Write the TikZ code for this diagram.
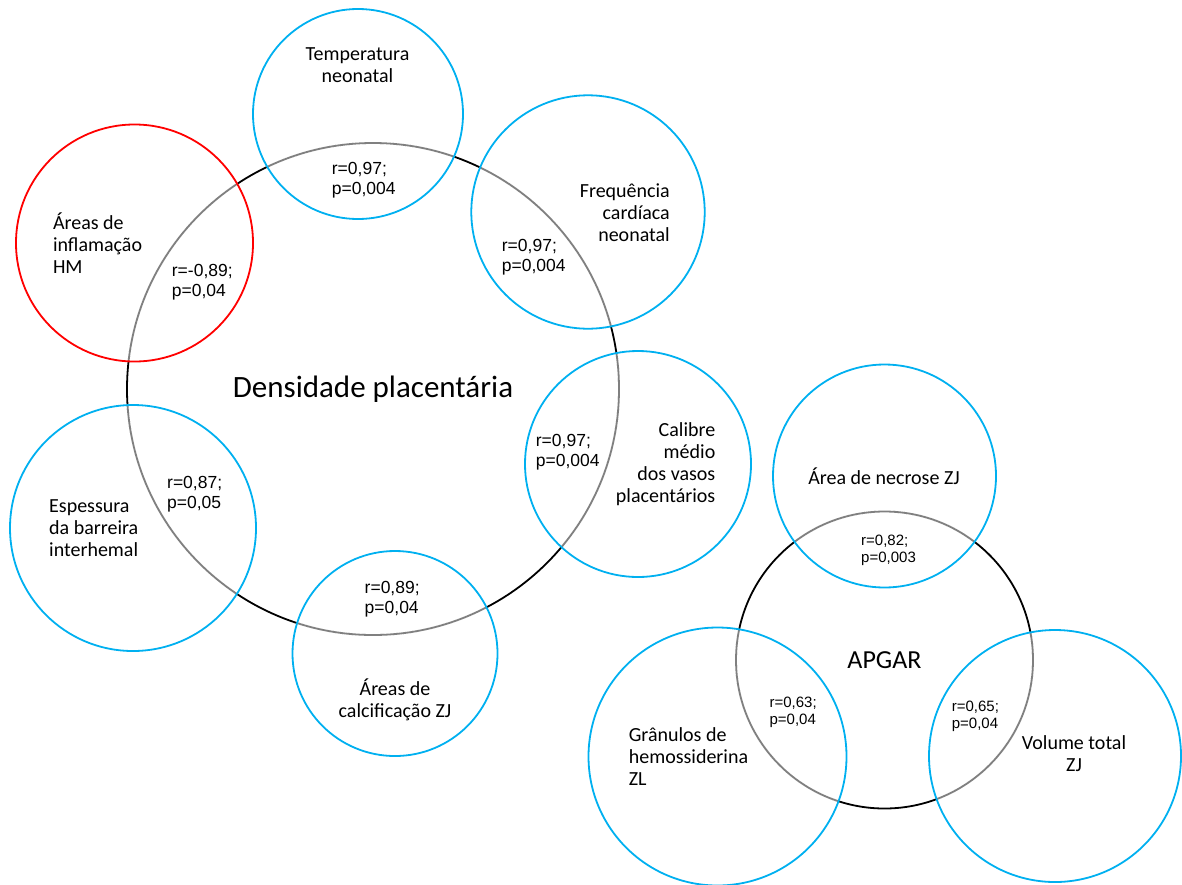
\documentclass[tikz,border=0pt]{standalone}
\usepackage{fontspec}
\setmainfont{Carlito}
\newfontfamily\arialf{Liberation Sans}
\definecolor{cyanc}{RGB}{0,176,240}
\definecolor{redc}{RGB}{255,0,0}
\definecolor{grayc}{RGB}{128,128,128}
\begin{document}
\begin{tikzpicture}[x=1pt,y=-1pt,
  ring/.style={circle,draw=cyanc,line width=1.8pt,inner sep=0pt,minimum size=#1},
  mainring/.style={circle,draw=black,line width=1.8pt,inner sep=0pt,minimum size=#1},
  lbl/.style={inner sep=0pt,font=\fontsize{20}{22}\selectfont},
  stat/.style={inner sep=0pt,align=left,anchor=west,font=\arialf\fontsize{17.5}{20}\selectfont},
  smallstat/.style={inner sep=0pt,align=left,anchor=west,font=\arialf\fontsize{15}{17}\selectfont},
  whitearc/.style={draw=white,line width=3pt},
  grayarc/.style={draw=grayc,line width=1.8pt}]
\useasboundingbox (0,0) rectangle (1182,884);

% main circles
\node[mainring=492pt,font=\fontsize{31}{34}\selectfont] (dens) at (373,389) {Densidade placentária};
\node[mainring=297pt,font=\fontsize{26}{30}\selectfont] (apgar) at (884.5,660) {APGAR};

% gray parts of the main circles inside the satellites
\foreach \c/\x/\y/\r in {temp/358/114/105, infl/134.5/243/118.5, freq/588/212/116.7,
    calib/638/464/113, esp/133/528/123, calc/395/653.5/102.5}{
  \begin{scope}
    \clip (\x,\y) circle[radius=\r pt];
    \draw[whitearc] (dens.center) circle[radius=246pt];
    \draw[grayarc] (dens.center) circle[radius=246pt];
  \end{scope}
}
\foreach \c/\x/\y/\r in {necr/884.5/476/111.5, gran/717.5/756.5/129, vol/1055/756/126}{
  \begin{scope}
    \clip (\x,\y) circle[radius=\r pt];
    \draw[whitearc] (apgar.center) circle[radius=148.5pt];
    \draw[grayarc] (apgar.center) circle[radius=148.5pt];
  \end{scope}
}

% satellite circles
\node[ring=210pt] (temp) at (358,114) {};
\node[ring=237pt,draw=redc] (infl) at (134.5,243) {};
\node[ring=233.4pt] (freq) at (588,212) {};
\node[ring=226pt] (calib) at (638,464) {};
\node[ring=246pt] (esp) at (133,528) {};
\node[ring=205pt] (calc) at (395,653.5) {};
\node[ring=223pt] (necr) at (884.5,476) {};
\node[ring=258pt] (gran) at (717.5,756.5) {};
\node[ring=252pt] (vol) at (1055,756) {};

% labels
\node[lbl,align=center] (tempt) at (357.5,65.2) {Temperatura\\neonatal};
\node[lbl,align=left,anchor=west] (inflt) at (52.8,243.3) {Áreas de\\inflamação\\HM};
\node[lbl,align=right,anchor=east] (freqt) at (670,212.5) {Frequência\\cardíaca\\neonatal};
\node[lbl,align=right,anchor=east] (calibt) at (715.5,463.9) {Calibre\\médio\\dos vasos\\placentários};
\node[lbl,align=left,anchor=west] (espt) at (49,528) {Espessura\\da barreira\\interhemal};
\node[lbl,align=center] (calct) at (395,700) {Áreas de\\calcificação ZJ};
\node[lbl] (necrt) at (884,476) {Área de necrose ZJ};
\node[lbl,align=left,anchor=west] (grant) at (628.6,756.7) {Grânulos de\\hemossiderina\\ZL};
\node[lbl,align=center] (volt) at (1074,754) {Volume total\\ZJ};

% statistics
\node[stat] (s1) at (331.7,180.5) {r=0,97;\\p=0,004};
\node[stat] (s2) at (501.7,257.3) {r=0,97;\\p=0,004};
\node[stat] (s3) at (171.7,282.5) {r=-0,89;\\p=0,04};
\node[stat] (s4) at (535.7,452.2) {r=0,97;\\p=0,004};
\node[stat] (s5) at (167,494.5) {r=0,87;\\p=0,05};
\node[stat] (s6) at (364.5,598.7) {r=0,89;\\p=0,04};
\node[smallstat] (s7) at (861,549.9) {r=0,82;\\p=0,003};
\node[smallstat] (s8) at (769.4,712.5) {r=0,63;\\p=0,04};
\node[smallstat] (s9) at (951.6,716.8) {r=0,65;\\p=0,04};
\end{tikzpicture}
\end{document}
